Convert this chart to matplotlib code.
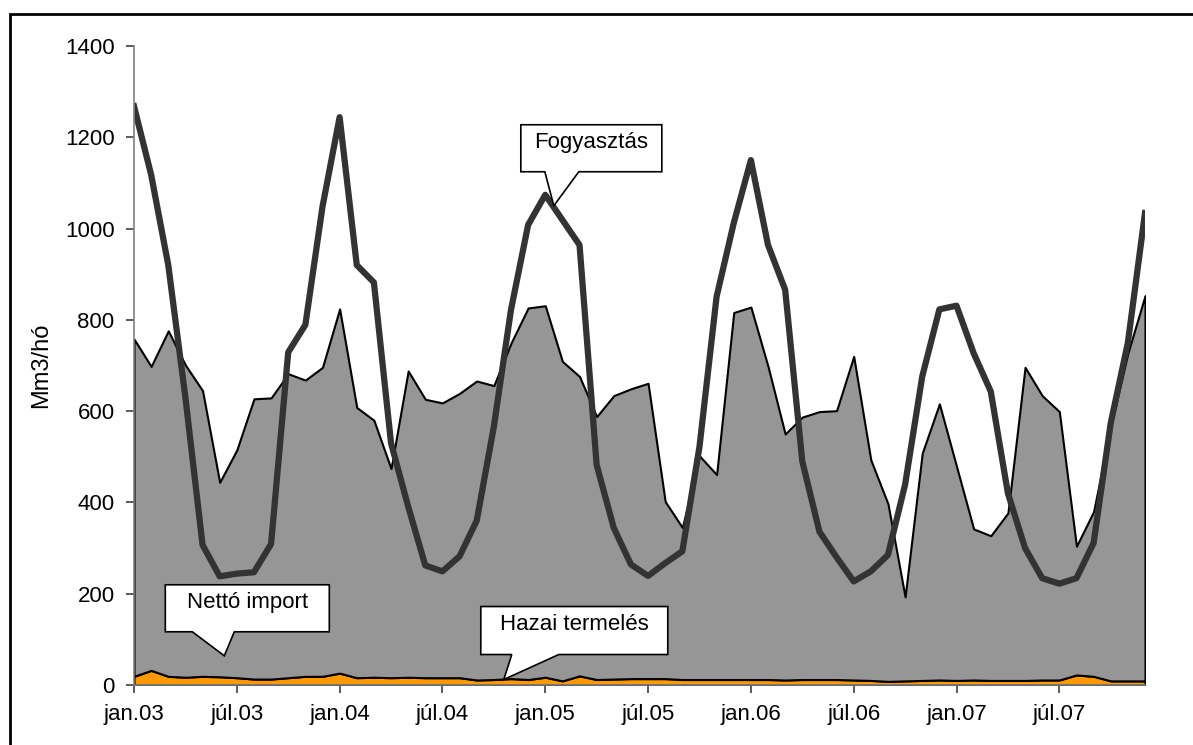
import matplotlib
matplotlib.use("Agg")
import matplotlib.pyplot as plt
from matplotlib.patches import Polygon, Rectangle
from matplotlib.transforms import IdentityTransform
import numpy as np

plt.rcParams['font.family'] = ['Liberation Sans', 'DejaVu Sans']

# monthly data, jan.03 - dec.07 (Mm3/month)
hazai_termeles = [19, 32, 19, 17, 19, 18, 16, 13, 13, 16, 19, 19,
                  26, 16, 17, 16, 17, 16, 16, 16, 11, 12, 14, 12,
                  17, 9, 20, 12, 13, 14, 14, 14, 12, 12, 12, 12,
                  12, 12, 11, 12, 12, 12, 11, 10, 8, 9, 10, 11,
                  10, 11, 10, 10, 10, 11, 11, 22, 19, 9, 9, 9]
netto_import = [739, 666, 757, 684, 626, 426, 499, 614, 616, 666, 649, 677,
                798, 592, 563, 458, 671, 610, 602, 623, 655, 644, 735, 814,
                814, 700, 656, 576, 621, 635, 647, 388, 333, 490, 449, 804,
                816, 686, 539, 575, 587, 589, 709, 483, 389, 184, 498, 605,
                469, 331, 317, 367, 686, 623, 588, 282, 361, 557, 718, 844]
fogyasztas = [1268, 1118, 920, 630, 307, 238, 244, 247, 309, 729, 789, 1048,
              1244, 920, 882, 530, 391, 262, 249, 282, 360, 566, 822, 1008,
              1074, 1019, 964, 482, 344, 264, 239, 267, 293, 522, 851, 1012,
              1150, 964, 866, 490, 336, 280, 227, 249, 285, 439, 676, 823,
              831, 727, 643, 420, 300, 234, 222, 234, 311, 574, 750, 1034]
tick_labels = ['jan.03', 'júl.03', 'jan.04', 'júl.04', 'jan.05',
               'júl.05', 'jan.06', 'júl.06', 'jan.07', 'júl.07']

x = np.arange(len(fogyasztas))
hazai = np.array(hazai_termeles)
total = hazai + np.array(netto_import)

W, H = 1193, 745
fig = plt.figure(figsize=(W / 100, H / 100), dpi=100)
ax = fig.add_axes([134 / W, (H - 685) / H, (1145 - 134) / W, (685 - 46) / H])

ax.fill_between(x, 0, hazai, facecolor='#FF9900', edgecolor='black', linewidth=1.5, zorder=2)
ax.fill_between(x, hazai, total, facecolor='#969696', edgecolor='black', linewidth=1.5, zorder=2)
ax.plot(x, fogyasztas, color='#333333', linewidth=4.5, zorder=3)

ax.set_xlim(0, len(x) - 1)
ax.set_ylim(0, 1400)
ax.set_yticks(range(0, 1401, 200))
ax.set_xticks(range(0, len(x), 6))
ax.set_xticklabels(tick_labels)
ax.set_ylabel('Mm3/hó', fontsize=17, labelpad=9)
for s in ['top', 'right']:
    ax.spines[s].set_visible(False)
for s in ['left', 'bottom']:
    ax.spines[s].set_color('#808080')
    ax.spines[s].set_linewidth(1.2)
    ax.spines[s].set_zorder(4)
ax.tick_params(axis='both', labelsize=16, length=6, color='#404040', width=1.2)
ax.tick_params(axis='y', pad=8)
ax.tick_params(axis='x', pad=8)


def callout(text, tip, box, base):
    # tip in data coords, box (left, right, top, bottom) and base in pixel offsets from tip
    tx, ty = ax.transData.transform(tip)
    l, r, t, b = box
    pts = [(tx + l, ty + b), (tx + base[0], ty + b), (tx, ty), (tx + base[1], ty + b),
           (tx + r, ty + b), (tx + r, ty + t), (tx + l, ty + t)]
    fig.patches.append(Polygon(pts, closed=True, facecolor='white', edgecolor='black',
                               linewidth=1.2, transform=IdentityTransform(), zorder=5))
    fig.text((tx + (l + r) / 2) / W, (ty + t - 23) / H, text, ha='center', va='baseline',
             fontsize=16, zorder=6)


fig.canvas.draw()
callout('Fogyasztás', (24.5, 1050), (-33, 108, 81, 34), (-9, 25))
callout('Nettó import', (5.27, 64), (-59, 105, 71, 24), (-32, 10))
callout('Hazai termelés', (21.58, 12), (-23, 164, 73, 25), (8, 55))

fig.patches.append(Rectangle((10 / W, -0.05), 1.1, (H - 14) / H + 0.05, fill=False,
                             edgecolor='black', linewidth=2, transform=fig.transFigure))

fig.savefig('out.png', dpi=100)
